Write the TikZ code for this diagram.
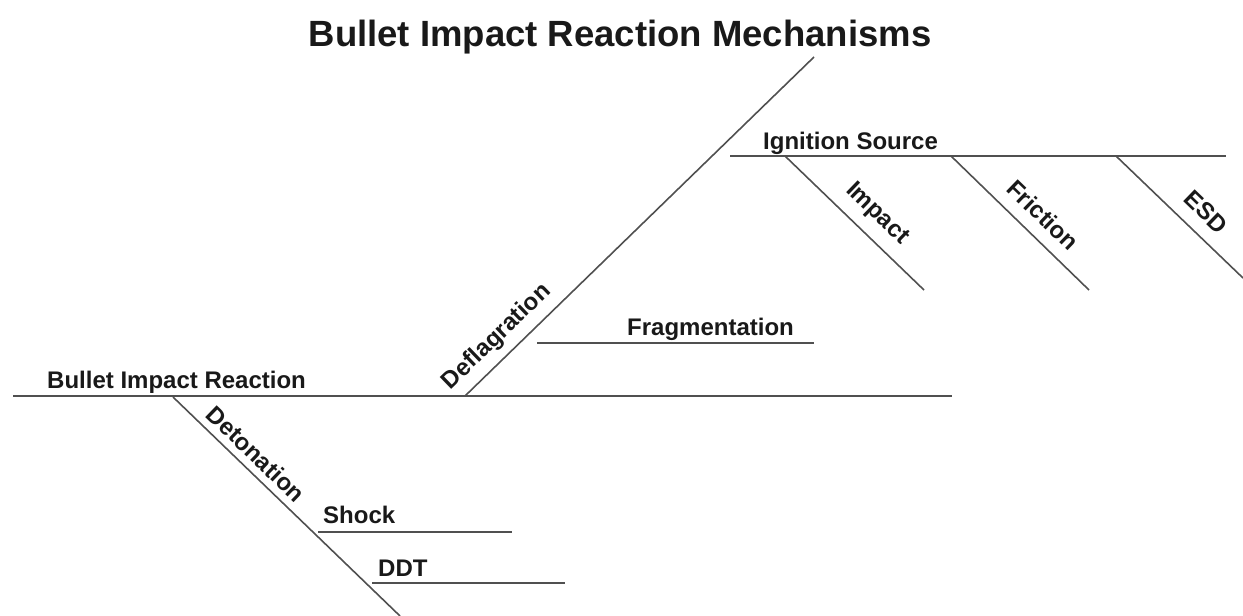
\documentclass[tikz,border=0pt]{standalone}
\usepackage{fontspec}
\setmainfont{Liberation Sans}
\definecolor{linegray}{RGB}{80,80,80}
\definecolor{textdark}{RGB}{25,25,25}
\begin{document}
\begin{tikzpicture}[x=1pt,y=-1pt,
  bone/.style={draw=linegray, line width=1.6pt},
  spine/.style={draw=linegray, line width=2.2pt},
  lbl/.style={font=\bfseries\fontsize{24}{28}\selectfont, inner sep=0pt, text=textdark},
  ttl/.style={font=\bfseries\fontsize{36.5}{42}\selectfont, inner sep=0pt, text=textdark}]
\useasboundingbox (0,0) rectangle (1243,616);
% title
\node[ttl, anchor=base] (title) at (620,46) {Bullet Impact Reaction Mechanisms};
% coordinates
\coordinate (m0) at (13,396);
\coordinate (m1) at (952,396);
\coordinate (d0) at (465,396);
\coordinate (d1) at (814,57);
\coordinate (i0) at (730,156);
\coordinate (i1) at (1226,156);
\coordinate (im0) at (785,156);
\coordinate (im1) at (924,290);
\coordinate (fr0) at (951,156);
\coordinate (fr1) at (1089,290);
\coordinate (es0) at (1116,156);
\coordinate (es1) at (1243,278);
\coordinate (fg0) at (537,343);
\coordinate (fg1) at (814,343);
\coordinate (dt0) at (173,397);
\coordinate (dt1) at (400,616);
\coordinate (sh0) at (318,532);
\coordinate (sh1) at (512,532);
\coordinate (dd0) at (372,583);
\coordinate (dd1) at (565,583);
% lines
\draw[spine] (m0) -- (m1);
\draw[bone] (d0) -- (d1);
\draw[bone] (i0) -- (i1);
\draw[bone] (im0) -- (im1);
\draw[bone] (fr0) -- (fr1);
\draw[bone] (es0) -- (es1);
\draw[bone] (fg0) -- (fg1);
\draw[bone] (dt0) -- (dt1);
\draw[bone] (sh0) -- (sh1);
\draw[bone] (dd0) -- (dd1);
% labels
\node[lbl, anchor=base west] (bir) at (47,388) {Bullet Impact Reaction};
\node[lbl, anchor=base west] (ign) at (763,149) {Ignition Source};
\node[lbl, anchor=base west] (frag) at (627,335) {Fragmentation};
\node[lbl, anchor=base west] (shock) at (323,523) {Shock};
\node[lbl, anchor=base west] (ddt) at (378,576) {DDT};
\node[lbl, rotate=44] (defl) at (497,337) {Deflagration};
\node[lbl, rotate=-44] (deto) at (256,454) {Detonation};
\node[lbl, rotate=-44] (imp) at (877,214) {Impact};
\node[lbl, rotate=-44] (fric) at (1043,215) {Friction};
\node[lbl, rotate=-44] (esd) at (1206,212) {ESD};
\end{tikzpicture}
\end{document}
